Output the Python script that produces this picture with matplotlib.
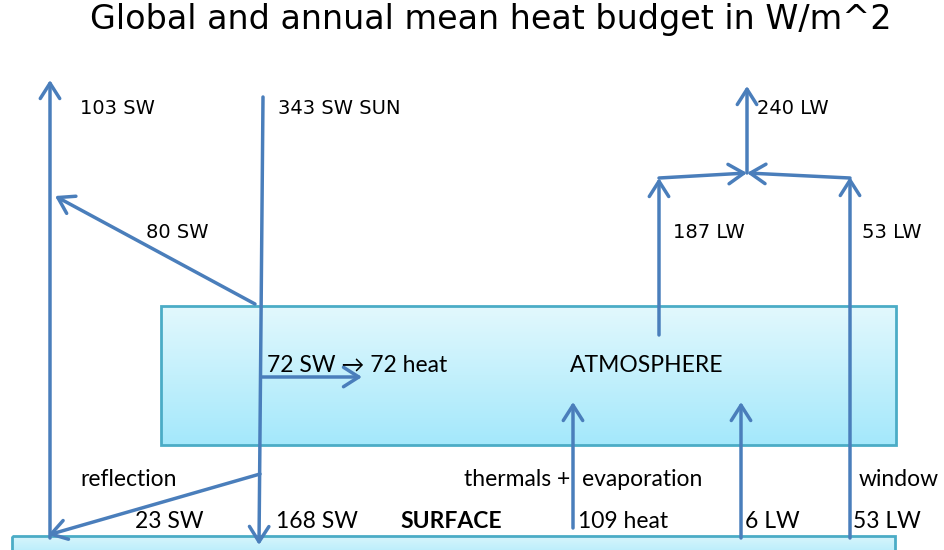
import matplotlib
matplotlib.use("Agg")
import matplotlib.pyplot as plt
import numpy as np
from matplotlib.colors import LinearSegmentedColormap
from matplotlib.patches import Rectangle

# flux values in W/m^2
sw_sun = 343
sw_out = 103
sw_cloud = 80
sw_absorbed = 72
sw_surface_refl = 23
sw_surface_abs = 168
lw_atm = 187
lw_window = 53
lw_total = 240
heat_up = 109
lw_net = 6

BLUE = '#4a7ebb'
EDGE = '#4bacc6'
LABEL_FONT = 'DejaVu Sans'
BODY_FONT = 'Lato'

fig = plt.figure(figsize=(9.45, 5.5), dpi=100)
ax = fig.add_axes([0, 0, 1, 1])
ax.set_xlim(0, 945)
ax.set_ylim(550, 0)
ax.axis('off')


def arrow(tail, tip, head=True):
    style = '->,head_length=0.55,head_width=0.35' if head else '-'
    ax.annotate('', xy=tip, xytext=tail,
                arrowprops=dict(arrowstyle=style, lw=2.5, color=BLUE,
                                shrinkA=0, shrinkB=0, mutation_scale=20))


def gradient_box(x0, x1, y0, y1, top, bottom, z=1):
    cmap = LinearSegmentedColormap.from_list('g', [top, bottom])
    grad = np.linspace(0, 1, 100).reshape(-1, 1)
    ax.imshow(grad, cmap=cmap, extent=(x0, x1, y1, y0), aspect='auto', zorder=z)
    ax.add_patch(Rectangle((x0, y0), x1 - x0, y1 - y0, fill=False,
                           edgecolor=EDGE, lw=2, zorder=z + 0.1))


# boxes
gradient_box(161, 896, 306, 445, '#e2f8fd', '#a4e8fb')
gradient_box(12, 895, 536, 556, '#d8f5fc', '#b2ecfb')

# title
ax.text(491, 20, 'Global and annual mean heat budget in W/m^2', ha='center',
        va='center', fontsize=24, family=LABEL_FONT)

# shortwave
arrow((50, 538), (50, 80))
arrow((263, 97), (259, 545))
arrow((255, 304), (55, 196))
arrow((262, 377), (362, 377))
arrow((260, 474), (48, 535))

# longwave
arrow((659, 335), (659, 178))
arrow((850, 538), (850, 177))
arrow((659, 178), (747, 173))
arrow((850, 178), (747, 173))
arrow((747, 173), (747, 86))
arrow((573, 528), (573, 402))
arrow((741, 538), (741, 402))

lab = dict(fontsize=14, family=LABEL_FONT, va='center', ha='left')
ax.text(80, 108, f'{sw_out} SW', **lab)
ax.text(278, 108, f'{sw_sun} SW SUN', **lab)
ax.text(146, 232, f'{sw_cloud} SW', **lab)
ax.text(673, 232, f'{lw_atm} LW', **lab)
ax.text(862, 232, f'{lw_window} LW', **lab)
ax.text(757, 108, f'{lw_total} LW', **lab)

body = dict(fontsize=16.5, family=BODY_FONT, va='center', ha='left')
ax.text(267, 366, f'{sw_absorbed} SW \u2192 {sw_absorbed} heat', **body)
ax.text(570, 366, 'ATMOSPHERE', **body)
ax.text(80, 480, 'reflection', **body)
ax.text(570, 480, 'thermals +', **dict(body, ha='right'))
ax.text(582, 480, 'evaporation', **body)
ax.text(859, 480, 'window', **body)
ax.text(135, 521, f'{sw_surface_refl} SW', **body)
ax.text(276, 521, f'{sw_surface_abs} SW', **body)
ax.text(400, 521, 'SURFACE', fontweight='bold', **body)
ax.text(578, 521, f'{heat_up} heat', **body)
ax.text(745, 521, f'{lw_net} LW', **body)
ax.text(853, 521, f'{lw_window} LW', **body)

fig.savefig('out.png', dpi=100)
